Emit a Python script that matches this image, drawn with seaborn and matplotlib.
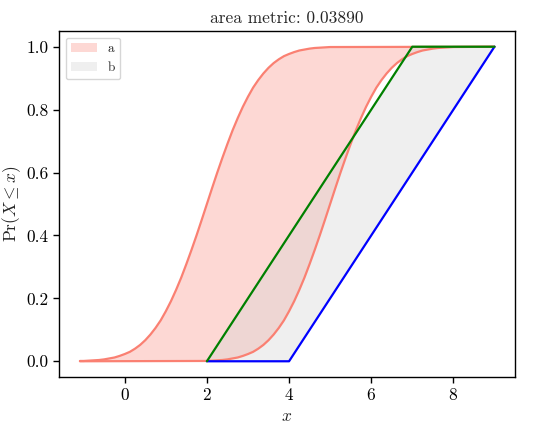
import matplotlib
matplotlib.use("Agg")
import matplotlib.pyplot as plt
import seaborn as sns

# p-box a: upper bound CDF
a_upper_x = [-1.09, -1.0, -0.875, -0.75, -0.625, -0.5, -0.375, -0.25, -0.125, 0.0,
             0.125, 0.25, 0.375, 0.5, 0.625, 0.75, 0.875, 1.0,
             1.125, 1.25, 1.375, 1.5, 1.625, 1.75, 1.875, 2.0,
             2.125, 2.25, 2.375, 2.5, 2.625, 2.75, 2.875, 3.0,
             3.125, 3.25, 3.375, 3.5, 3.625, 3.75, 3.875, 4.0,
             4.125, 4.25, 4.375, 4.5, 4.625, 4.75, 4.875, 5.0, 9.0]
a_upper_y = [0.001, 0.001, 0.002, 0.003, 0.004, 0.006, 0.009, 0.012, 0.017, 0.023,
             0.030, 0.040, 0.052, 0.067, 0.085, 0.106, 0.130, 0.159,
             0.191, 0.227, 0.266, 0.309, 0.354, 0.401, 0.450, 0.500,
             0.550, 0.599, 0.646, 0.691, 0.734, 0.773, 0.809, 0.841,
             0.870, 0.894, 0.915, 0.933, 0.948, 0.960, 0.970, 0.977,
             0.983, 0.988, 0.991, 0.994, 0.996, 0.997, 0.998, 0.999, 1.0]

# p-box a: lower bound CDF
a_lower_x = [-1.09, 2.0, 2.125, 2.25, 2.375, 2.5, 2.625, 2.75, 2.875, 3.0,
             3.125, 3.25, 3.375, 3.5, 3.625, 3.75, 3.875, 4.0,
             4.125, 4.25, 4.375, 4.5, 4.625, 4.75, 4.875, 5.0,
             5.125, 5.25, 5.375, 5.5, 5.625, 5.75, 5.875, 6.0,
             6.125, 6.25, 6.375, 6.5, 6.625, 6.75, 6.875, 7.0,
             7.125, 7.25, 7.375, 7.5, 7.625, 7.75, 7.875, 8.0, 9.0]
a_lower_y = [0.0, 0.001, 0.002, 0.003, 0.004, 0.006, 0.009, 0.012, 0.017, 0.023,
             0.030, 0.040, 0.052, 0.067, 0.085, 0.106, 0.130, 0.159,
             0.191, 0.227, 0.266, 0.309, 0.354, 0.401, 0.450, 0.500,
             0.550, 0.599, 0.646, 0.691, 0.734, 0.773, 0.809, 0.841,
             0.870, 0.894, 0.915, 0.933, 0.948, 0.960, 0.970, 0.977,
             0.983, 0.988, 0.991, 0.994, 0.996, 0.997, 0.998, 0.999, 1.0]

# p-box b: interval bounds
b_x = [2.0, 4.0, 7.0, 9.0]
b_upper = [0.0, 0.4, 1.0, 1.0]
b_lower = [0.0, 0.0, 0.6, 1.0]

title = "area metric: 0.03890"

sns.set_theme(style="ticks")
plt.rcParams["font.family"] = "serif"
plt.rcParams["font.serif"] = ["cmr10"]
plt.rcParams["mathtext.fontset"] = "cm"
plt.rcParams["axes.formatter.use_mathtext"] = True
plt.rcParams["axes.unicode_minus"] = False
plt.rcParams["axes.edgecolor"] = "black"
plt.rcParams["xtick.color"] = "black"
plt.rcParams["ytick.color"] = "black"

fig = plt.figure(figsize=(5.34, 4.29), dpi=100)
ax = fig.add_axes([59 / 534, 52 / 429, 456 / 534, 346 / 429])

# band of a as a polygon: upper bound forward, lower bound back
ax.fill(a_upper_x + a_lower_x[::-1], a_upper_y + a_lower_y[::-1],
        color="salmon", alpha=0.3, lw=0, label="a")
sns.lineplot(x=a_upper_x, y=a_upper_y, color="salmon", lw=1.6, ax=ax, sort=False)
sns.lineplot(x=a_lower_x, y=a_lower_y, color="salmon", lw=1.6, ax=ax, sort=False)

ax.fill_between(b_x, b_lower, b_upper, color="lightgray", alpha=0.35, lw=0, label="b")
sns.lineplot(x=b_x, y=b_lower, color="blue", lw=1.6, ax=ax, sort=False)
sns.lineplot(x=b_x, y=b_upper, color="green", lw=1.6, ax=ax, sort=False)

ax.set_xlim(-1.6, 9.5)
ax.set_ylim(-0.05, 1.05)
ax.set_xticks([0, 2, 4, 6, 8])
ax.set_yticks([0.0, 0.2, 0.4, 0.6, 0.8, 1.0])
ax.set_yticklabels(["0.0", "0.2", "0.4", "0.6", "0.8", "1.0"])
ax.tick_params(labelsize=12.5, length=4, width=1.0)
for s in ax.spines.values():
    s.set_linewidth(1.0)

ax.set_xlabel("$x$", fontsize=12.5)
ax.set_ylabel(r"$\Pr(X \leq x)$", fontsize=12.5)
ax.yaxis.set_label_coords(-0.08, 0.5)
ax.set_title(title, fontsize=12.5)
ax.legend(loc="upper left", fontsize=9.5)

fig.savefig("out.png", dpi=100)
plt.close(fig)
